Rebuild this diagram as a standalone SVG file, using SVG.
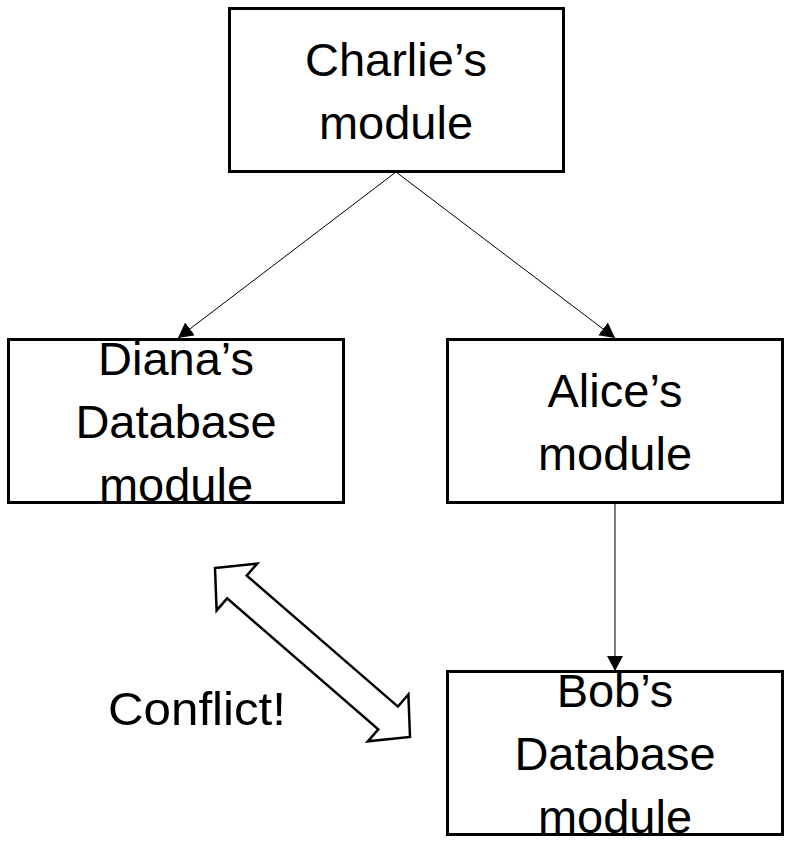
<svg xmlns="http://www.w3.org/2000/svg" width="788" height="844" viewBox="0 0 788 844">
<style>
.box{fill:#fff;stroke:#000;stroke-width:3}
.lbl{font-family:"Liberation Sans",Arial,sans-serif;font-size:47px;fill:#000;text-anchor:middle}
.conn{stroke:#000;stroke-width:1;fill:none}
</style>
<defs>
<marker id="ah" markerUnits="userSpaceOnUse" markerWidth="16" markerHeight="16" refX="15" refY="8" orient="auto">
<path d="M0,0 L15,8 L0,16 z" fill="#000"/>
</marker>
</defs>
<rect width="788" height="844" fill="#fff"/>
<g id="connectors">
<line class="conn" x1="396" y1="172" x2="178" y2="338" marker-end="url(#ah)"/>
<line class="conn" x1="396" y1="172" x2="615" y2="338" marker-end="url(#ah)"/>
<line class="conn" x1="615" y1="503" x2="615" y2="671" marker-end="url(#ah)"/>
</g>
<g id="charlie">
<rect class="box" x="229.5" y="8.5" width="334" height="163"/>
<text class="lbl" x="396" y="76">Charlie’s</text>
<text class="lbl" x="396" y="139">module</text>
</g>
<g id="diana">
<rect class="box" x="8.5" y="339.5" width="335" height="163"/>
<text class="lbl" x="176" y="375">Diana’s</text>
<text class="lbl" x="176" y="438">Database</text>
<text class="lbl" x="176" y="501">module</text>
</g>
<g id="alice">
<rect class="box" x="447.5" y="339.5" width="335" height="163"/>
<text class="lbl" x="615" y="407">Alice’s</text>
<text class="lbl" x="615" y="470">module</text>
</g>
<g id="bob">
<rect class="box" x="447.5" y="671.5" width="335" height="163"/>
<text class="lbl" x="615" y="707">Bob’s</text>
<text class="lbl" x="615" y="770">Database</text>
<text class="lbl" x="615" y="833">module</text>
</g>
<g id="conflict">
<polygon points="0,0 29,-31 29,-15 229,-15 229,-31 258,0 229,31 229,15 29,15 29,31" transform="translate(215,568) rotate(40.9)" fill="#fff" stroke="#000" stroke-width="2.5" stroke-linejoin="miter"/>
<text class="lbl" x="197" y="725" textLength="178" lengthAdjust="spacingAndGlyphs">Conflict!</text>
</g>
</svg>
